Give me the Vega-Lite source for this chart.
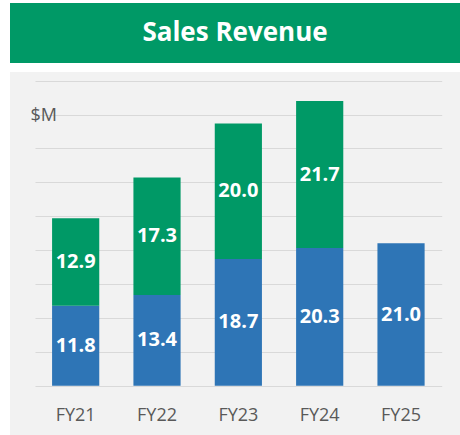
{
  "$schema": "https://vega.github.io/schema/vega-lite/v6.json",
  "padding": {"left": 10, "top": 3, "right": 0, "bottom": 0},
  "background": "white",
  "spacing": 9,
  "config": {"view": {"stroke": null}, "font": "Open Sans"},
  "datasets": {
    "title": [{"t": "Sales Revenue"}],
    "rev": [
      {"year": "FY21", "segment": "Base", "value": 11.8},
      {"year": "FY21", "segment": "Growth", "value": 12.9},
      {"year": "FY22", "segment": "Base", "value": 13.4},
      {"year": "FY22", "segment": "Growth", "value": 17.3},
      {"year": "FY23", "segment": "Base", "value": 18.7},
      {"year": "FY23", "segment": "Growth", "value": 20.0},
      {"year": "FY24", "segment": "Base", "value": 20.3},
      {"year": "FY24", "segment": "Growth", "value": 21.7},
      {"year": "FY25", "segment": "Base", "value": 21.0}
    ]
  },
  "vconcat": [
    {
      "width": 450,
      "height": 60,
      "data": {"name": "title"},
      "view": {"fill": "#009966", "stroke": null},
      "mark": {"type": "text", "font": "Open Sans", "fontSize": 26, "fontWeight": "bold", "color": "white", "baseline": "middle", "align": "center"},
      "encoding": {"text": {"field": "t", "type": "nominal"}}
    },
    {
      "width": 450,
      "height": 363,
      "data": {"name": "rev"},
      "view": {"fill": "#f2f2f2", "stroke": null},
      "encoding": {
        "x": {
          "field": "year", "type": "nominal",
          "scale": {"range": [25, 431.7], "paddingInner": 0.42, "paddingOuter": 0.21},
          "axis": {"title": null, "labelAngle": 0, "domain": false, "ticks": false, "grid": false, "labelFontSize": 18, "labelColor": "#595959", "labelFont": "Open Sans", "offset": -29, "labelPadding": 0}
        },
        "y": {
          "field": "value", "type": "quantitative", "stack": "zero",
          "scale": {"domain": [0, 45], "range": [313.7, 8.7], "nice": false, "zero": true},
          "axis": {"values": [0, 5, 10, 15, 20, 25, 30, 35, 40, 45], "grid": true, "gridColor": "#d9d9d9", "gridWidth": 1, "labels": false, "ticks": false, "domain": false, "title": "$M", "titleAngle": 0, "titleX": 20, "titleY": 48, "titleAlign": "left", "titleBaseline": "alphabetic", "titleFontSize": 18, "titleFontWeight": "normal", "titleColor": "#595959", "titleFont": "Open Sans"}
        },
        "order": {"field": "segment", "type": "nominal", "sort": "ascending"}
      },
      "layer": [
        {
          "mark": {"type": "bar"},
          "encoding": {
            "color": {"field": "segment", "type": "nominal", "scale": {"domain": ["Base", "Growth"], "range": ["#2E75B6", "#009966"]}, "legend": null}
          }
        },
        {
          "mark": {"type": "text", "font": "Open Sans", "fontSize": 20, "fontWeight": "bold", "color": "white", "baseline": "middle", "align": "center"},
          "encoding": {
            "y": {"field": "value", "type": "quantitative", "stack": "zero", "bandPosition": 0.5},
            "detail": {"field": "segment", "type": "nominal"},
            "text": {"field": "value", "type": "quantitative", "format": ".1f"}
          }
        }
      ]
    }
  ]
}
